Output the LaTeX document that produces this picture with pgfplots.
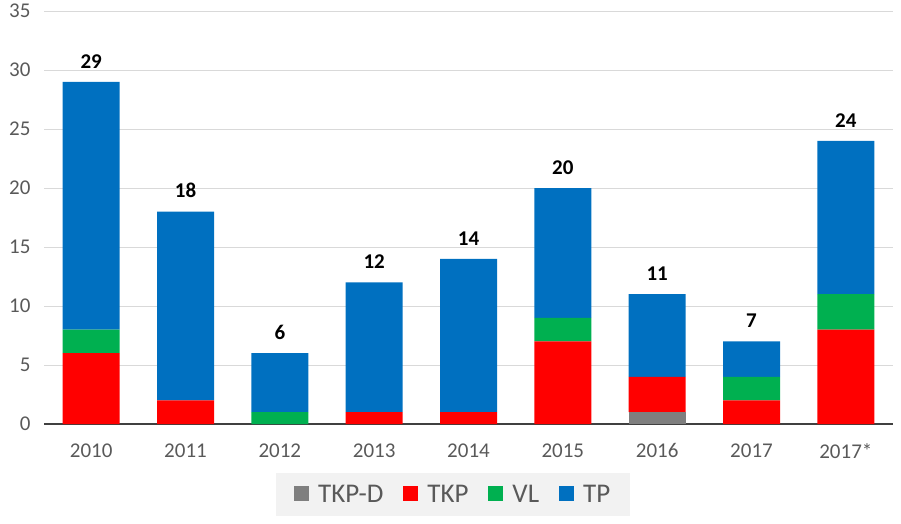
\documentclass[border=0pt]{standalone}
\usepackage{fontspec}
\setmainfont{Carlito}
\usepackage{pgfplots}
\usepackage{pgfplotstable}
\pgfplotsset{compat=1.18}
\definecolor{cTKPD}{HTML}{7F7F7F}
\definecolor{cTKP}{HTML}{FF0000}
\definecolor{cVL}{HTML}{00B050}
\definecolor{cTP}{HTML}{0070C0}
\definecolor{gridc}{HTML}{D9D9D9}
\definecolor{txtc}{HTML}{595959}
\definecolor{axc}{HTML}{404040}
\definecolor{legbg}{HTML}{F2F2F2}
\pgfplotstableread{
x TKPD TKP VL TP total
0 0 6 2 21 29
1 0 2 0 16 18
2 0 0 1 5 6
3 0 1 0 11 12
4 0 1 0 13 14
5 0 7 2 11 20
6 1 3 0 7 11
7 0 2 2 3 7
8 0 8 3 13 24
}\datatable
\begin{document}
\begin{tikzpicture}
\useasboundingbox (0,0) rectangle (901pt,523pt);
\begin{axis}[
  at={(44pt,99pt)}, anchor=south west,
  scale only axis, width=849pt, height=413pt,
  ybar stacked, bar width=57pt,
  xmin=-0.5, xmax=8.5, ymin=0, ymax=35,
  xtick=data,
  xticklabels={2010,2011,2012,2013,2014,2015,2016,2017,2017*},
  ytick={0,5,...,35},
  ymajorgrids, grid style={gridc, line width=1pt},
  major tick length=0pt,
  separate axis lines,
  axis x line*=bottom, axis y line*=left,
  x axis line style={axc, line width=2.2pt, -},
  y axis line style={draw=none},
  tick label style={font=\fontsize{21}{24}\selectfont, text=txtc},
  xticklabel style={yshift=-16pt},
  yticklabel style={xshift=-10pt},
  /pgf/number format/assume math mode=true,
  legend columns=4,
  legend style={at={([yshift=-49pt]axis description cs:0.482,0)}, anchor=north,
    fill=legbg, draw=none, font=\fontsize{27}{30}\selectfont, text=txtc,
    inner xsep=18pt, inner ysep=10pt,
    /tikz/every odd column/.append style={column sep=7pt},
    /tikz/every even column/.append style={column sep=18pt}},
  legend image code/.code={\fill[#1] (0pt,-6pt) rectangle (15pt,9pt);},
]
\addplot[fill=cTKPD, draw=none] table[x=x, y=TKPD] {\datatable};
\addplot[fill=cTKP, draw=none] table[x=x, y=TKP] {\datatable};
\addplot[fill=cVL, draw=none] table[x=x, y=VL] {\datatable};
\addplot[fill=cTP, draw=none] table[x=x, y=TP] {\datatable};
\legend{TKP-D,TKP,VL,TP}
\end{axis}
\begin{axis}[
  at={(44pt,99pt)}, anchor=south west,
  scale only axis, width=849pt, height=413pt,
  xmin=-0.5, xmax=8.5, ymin=0, ymax=35,
  hide axis, clip=false,
  /pgf/number format/assume math mode=true,
]
\addplot[draw=none, mark=none,
  nodes near coords, point meta=explicit,
  every node near coord/.append style={font=\bfseries\fontsize{21}{24}\selectfont, text=black, anchor=south, yshift=10pt}]
  table[x=x, y=total, meta=total] {\datatable};
\end{axis}
\end{tikzpicture}
\end{document}
